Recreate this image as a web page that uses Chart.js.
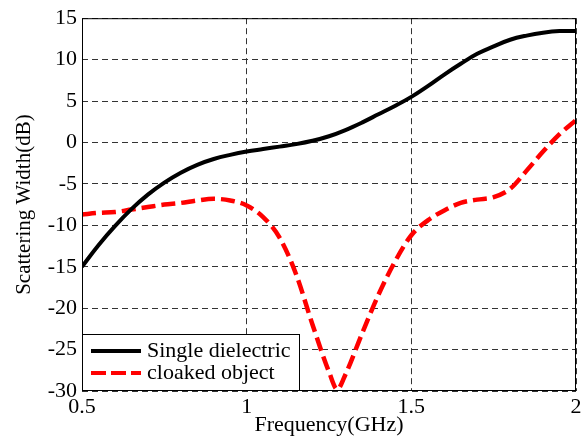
<!DOCTYPE html>
<html>
<head>
<meta charset="utf-8">
<script src="https://cdn.jsdelivr.net/npm/chart.js@4"></script>
<style>
  body { margin: 0; background: #fff; }
  #wrap { width: 586px; height: 439px; }
</style>
</head>
<body>
<div id="wrap"><canvas id="SW" width="586" height="439"></canvas></div>
<script>
// frequency (GHz) and scattering width (dB)
const freqSingle = [0.5, 0.55, 0.6, 0.65, 0.7, 0.75, 0.8, 0.85, 0.9, 0.95, 1.0, 1.05, 1.1, 1.15, 1.2, 1.25, 1.3, 1.35, 1.4, 1.45, 1.5, 1.55, 1.6, 1.65, 1.7, 1.75, 1.8, 1.85, 1.9, 1.95, 2.0];
const widthSingle = [-15.0, -12.4, -10.1, -8.05, -6.3, -4.85, -3.65, -2.7, -2.0, -1.5, -1.1, -0.8, -0.5, -0.2, 0.2, 0.75, 1.5, 2.4, 3.4, 4.4, 5.5, 6.8, 8.2, 9.5, 10.7, 11.6, 12.4, 12.9, 13.25, 13.45, 13.45];

const freqCloaked = [0.5, 0.55, 0.6, 0.65, 0.7, 0.75, 0.8, 0.85, 0.9, 0.95, 1.0, 1.05, 1.1, 1.15, 1.2, 1.25, 1.275, 1.3, 1.35, 1.4, 1.45, 1.5, 1.55, 1.6, 1.65, 1.7, 1.75, 1.8, 1.85, 1.9, 1.95, 2.0];
const widthCloaked = [-8.7, -8.5, -8.4, -8.1, -7.8, -7.5, -7.3, -7.0, -6.8, -7.0, -7.6, -9.0, -11.5, -15.9, -22.0, -27.7, -29.8, -28.0, -23.1, -18.4, -14.4, -11.2, -9.4, -8.2, -7.3, -6.9, -6.6, -5.6, -3.4, -1.1, 1.0, 2.7];

const seriesNames = ["Single dielectric", "cloaked object"];
const xTicks = [0.5, 1, 1.5, 2];
const yTicks = [-30, -25, -20, -15, -10, -5, 0, 5, 10, 15];

const serif = "'Liberation Serif', 'Times New Roman', serif";

function pairs(xs, ys) {
  return xs.map((x, i) => ({ x: x, y: ys[i] }));
}

// box round the axes plus the legend in the lower left corner
const frameAndLegend = {
  id: "frameAndLegend",
  afterDraw(chart) {
    const ctx = chart.ctx;
    const a = chart.chartArea;
    ctx.save();
    ctx.strokeStyle = "#000";
    ctx.lineWidth = 1;
    ctx.setLineDash([]);
    ctx.strokeRect(a.left + 0.5, a.top + 0.5, a.right - a.left - 1, a.bottom - a.top - 1);

    const bx = a.left, by = a.bottom - 57, bw = 218, bh = 57;
    ctx.fillStyle = "#fff";
    ctx.fillRect(bx, by, bw, bh);
    ctx.strokeRect(bx + 0.5, by + 0.5, bw - 1, bh - 1);

    const rows = [
      { y: by + 17, color: "#000", dash: [] },
      { y: by + 39, color: "#ff0000", dash: [15, 5] }
    ];
    rows.forEach((r, i) => {
      ctx.beginPath();
      ctx.strokeStyle = r.color;
      ctx.lineWidth = 4;
      ctx.setLineDash(r.dash);
      ctx.moveTo(bx + 9, r.y);
      ctx.lineTo(bx + 59, r.y);
      ctx.stroke();
      ctx.setLineDash([]);
      ctx.fillStyle = "#000";
      ctx.font = "22px " + serif;
      ctx.textBaseline = "middle";
      ctx.fillText(seriesNames[i], bx + 65, r.y);
    });
    ctx.restore();
  }
};

const canvas = document.querySelector("#SW");
const chart = new Chart(canvas.getContext("2d"), {
  type: "line",
  data: {
    datasets: [
      {
        label: seriesNames[0],
        data: pairs(freqSingle, widthSingle),
        borderColor: "#000",
        borderWidth: 4,
        pointRadius: 0,
        tension: 0.4,
        fill: false
      },
      {
        label: seriesNames[1],
        data: pairs(freqCloaked, widthCloaked),
        borderColor: "#ff0000",
        borderWidth: 4.5,
        borderDash: [14, 6],
        pointRadius: 0,
        cubicInterpolationMode: "monotone",
        fill: false
      }
    ]
  },
  options: {
    responsive: false,
    animation: false,
    layout: { padding: { top: 18, right: 10, left: 0, bottom: 0 } },
    plugins: {
      legend: { display: false },
      tooltip: { enabled: false }
    },
    scales: {
      x: {
        type: "linear",
        min: 0.5,
        max: 2,
        afterBuildTicks: s => { s.ticks = xTicks.map(v => ({ value: v })); },
        afterFit: s => { s.height = 48; },
        ticks: {
          color: "#000",
          font: { family: serif, size: 22 },
          padding: 3,
          maxRotation: 0,
          callback: v => String(v)
        },
        grid: {
          color: "#333",
          lineWidth: 1,
          drawTicks: false
        },
        border: { display: false, dash: [6, 4] },
        title: {
          display: true,
          text: "Frequency(GHz)",
          color: "#000",
          font: { family: serif, size: 22 },
          padding: { top: 0, bottom: 1 }
        }
      },
      y: {
        min: -30,
        max: 15,
        afterBuildTicks: s => { s.ticks = yTicks.map(v => ({ value: v })); },
        afterFit: s => { s.width = 82; },
        ticks: {
          color: "#000",
          font: { family: serif, size: 22 },
          padding: 5,
          callback: v => String(v)
        },
        grid: {
          color: "#333",
          lineWidth: 1,
          drawTicks: false
        },
        border: { display: false, dash: [6, 4] },
        title: {
          display: true,
          text: "Scattering Width(dB)",
          color: "#000",
          font: { family: serif, size: 21 },
          padding: { top: 12, bottom: 0 }
        }
      }
    }
  },
  plugins: [frameAndLegend]
});
</script>
</body>
</html>
